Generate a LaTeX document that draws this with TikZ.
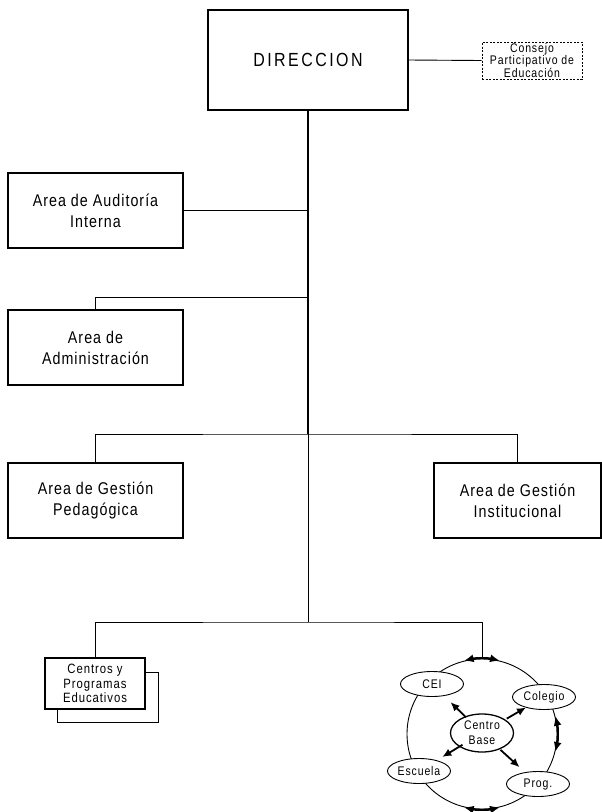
\documentclass[tikz,border=0pt]{standalone}
\usepackage{fontspec}
\setmainfont{Liberation Sans}
\newfontfamily\dirfont{Liberation Sans}[FakeStretch=0.84,LetterSpace=13]
\newfontfamily\areafont{Liberation Sans}[FakeStretch=0.84,LetterSpace=6]
\newfontfamily\chicafont{Liberation Sans}[FakeStretch=0.84,LetterSpace=7]
\usetikzlibrary{arrows.meta,shapes.geometric,calc}
\newcommand {\flecha}[3] {\draw[flecha] ($(cb)!#2!(#1)$) -- ($(cb)!#3!(#1)$);}
\newcommand {\giro}[2] {\draw[giro] (ciclo.#1) arc[start angle=-#1, end angle=-#2, radius=75];}

\begin{document}
\begin{tikzpicture}[x=1pt, y=-1pt,
        area/.style={draw, line width=1.2pt, minimum width=175pt, minimum height=75pt,
                     align=center, inner sep=0pt, font=\areafont\fontsize{17}{21}\selectfont},
        chica/.style={ellipse, draw, fill=white, line width=0.9pt, minimum width=63pt,
                      minimum height=25pt, inner sep=0pt, align=center,
                      font=\chicafont\fontsize{12.5}{15}\selectfont},
        linea/.style={line width=0.9pt},
        flecha/.style={line width=1.8pt, -{Latex[length=9pt,width=8pt]}},
        giro/.style={line width=2pt, {Latex[length=10pt,width=8pt]}-{Latex[length=10pt,width=8pt]}}]
    \useasboundingbox (0,0) rectangle (602,812);
    \node[area, minimum width=200pt, minimum height=100pt,
          font=\dirfont\fontsize{19}{22}\selectfont] (dir) at (308,60) {DIRECCION};
    \node[draw, dash pattern=on 2pt off 1.5pt, line width=0.9pt, minimum width=100pt,
          minimum height=37pt, inner sep=0pt, align=center,
          font=\chicafont\fontsize{12.5}{12.5}\selectfont] (consejo) at (532,60.5)
          {Consejo\\Participativo de\\Educación};
    \node[area] (aud) at (95.5,210.5) {Area de Auditoría\\Interna};
    \node[area] (adm) at (95.5,347.5) {Area de\\Administración};
    \node[area] (ped) at (95.5,500.5) {Area de Gestión\\Pedagógica};
    \node[area, minimum width=167pt] (inst) at (517.5,500.5) {Area de Gestión\\Institucional};
    \node[draw, line width=0.9pt, minimum width=101pt, minimum height=50pt] (centrosb) at (107.5,697) {};
    \node[draw, fill=white, line width=1.2pt, minimum width=100pt, minimum height=51pt,
          inner sep=0pt, align=center, font=\chicafont\fontsize{13.5}{14.5}\selectfont]
          (centros) at (95,683.5) {Centros y\\Programas\\Educativos};

    \coordinate (ja) at (308,297);
    \coordinate (jg) at (308,434);
    \coordinate (jb) at (308,622);
    \draw[line width=2.2pt] (dir.south) -- (jg);
    \draw[linea] (jg) -- (jb);
    \draw[linea] (dir.east) -- (consejo.west);
    \draw[linea] (aud.east) -- (aud.east -| dir.south);
    \draw[linea] (ja) -| (adm.north);
    \draw[linea] (ped.north) |- (jg) -| (inst.north);

    \node[circle, draw, line width=0.9pt, minimum size=150pt, inner sep=0pt] (ciclo) at (482,734) {};
    \draw[linea] (centros.north) |- (jb) -| (ciclo.north);
    \giro{104}{76}
    \giro{14}{-14}
    \giro{256}{284}

    \node[chica] (cei) at (432,684) {CEI};
    \node[chica] (colegio) at (544,697) {Colegio};
    \node[chica] (escuela) at (419,771) {Escuela};
    \node[chica] (prog) at (538,784) {Prog.};
    \node[chica, line width=1.3pt, minimum height=38pt] (cb) at (482,733) {Centro\\Base};
    \flecha{cei}{0.32}{0.63}
    \flecha{colegio}{0.40}{0.71}
    \flecha{escuela}{0.31}{0.63}
    \flecha{prog}{0.33}{0.67}
\end{tikzpicture}
\end{document}
